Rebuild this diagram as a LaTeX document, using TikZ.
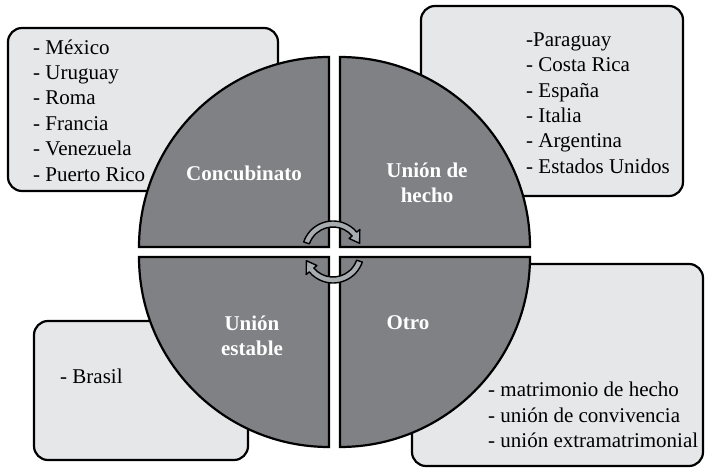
\documentclass[tikz,border=0pt]{standalone}
\usepackage{fontspec}
\setmainfont{Liberation Serif}
\definecolor{boxgray}{HTML}{E6E7E9}
\definecolor{quadgray}{HTML}{808185}
\definecolor{arrowgray}{HTML}{A7ACB0}
\begin{document}
\begin{tikzpicture}[x=1pt,y=-1pt,
  box/.style={draw=black, line width=2.2pt, fill=boxgray, rounded corners=14pt},
  quad/.style={draw=black, line width=2.2pt, fill=quadgray, line join=miter},
  arr/.style={draw=black, line width=1.4pt, fill=arrowgray, line join=round},
  listtxt/.style={font=\fontsize{21}{25.4}\selectfont, align=left, inner sep=0pt, anchor=west, text=black},
  lbl/.style={font=\bfseries\fontsize{21}{25}\selectfont, align=center, text=white, inner sep=0pt}]
\useasboundingbox (0,0) rectangle (705,468);
% boxes
\draw[box] (8,28) rectangle (278,191);
\draw[box] (421,6) rectangle (683,196);
\draw[box] (34,321) rectangle (248,460);
\draw[box] (412,264) rectangle (703,466);
% quadrants
\draw[quad] (329,247) -- ++(-190,0) arc[start angle=180,end angle=270,radius=190] -- cycle;
\draw[quad] (340,247) -- ++(0,-190) arc[start angle=270,end angle=360,radius=190] -- cycle;
\draw[quad] (340,257) -- ++(190,0) arc[start angle=0,end angle=90,radius=190] -- cycle;
\draw[quad] (329,257) -- ++(0,190) arc[start angle=90,end angle=180,radius=190] -- cycle;
% circular arrows
\begin{scope}[shift={(333,252)}]
\draw[arr] (199:31) arc[start angle=199,end angle=320,radius=31] -- (320:35) -- (342:28) -- (320:21) -- (320:25) arc[start angle=320,end angle=199,radius=25] -- cycle;
\draw[arr] (19:31) arc[start angle=19,end angle=140,radius=31] -- (140:35) -- (162:28) -- (140:21) -- (140:25) arc[start angle=140,end angle=19,radius=25] -- cycle;
\end{scope}
% list texts
\node[listtxt] (l1) at (33,110.5) {- México\\- Uruguay\\- Roma\\- Francia\\- Venezuela\\- Puerto Rico};
\node[listtxt] (l2) at (526,103) {-Paraguay\\- Costa Rica\\- España\\- Italia\\- Argentina\\- Estados Unidos};
\node[listtxt] (l3) at (60,376) {- Brasil};
\node[listtxt] (l4) at (488,415) {- matrimonio de hecho\\- unión de convivencia\\- unión extramatrimonial};
% quadrant labels
\node[lbl] (q1) at (244,173) {Concubinato};
\node[lbl] (q2) at (427,183) {Unión de\\hecho};
\node[lbl] (q3) at (252,336) {Unión\\estable};
\node[lbl] (q4) at (408,323) {Otro};
\end{tikzpicture}
\end{document}
